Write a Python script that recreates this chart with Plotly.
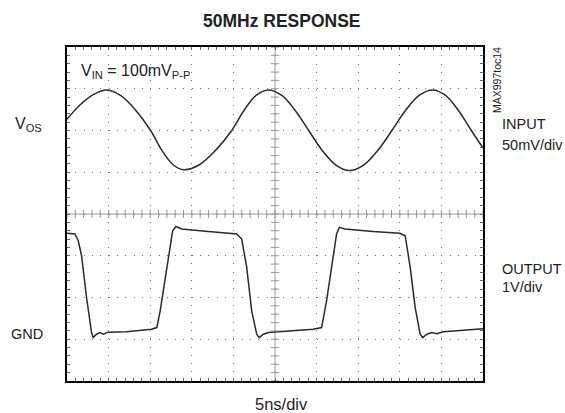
import numpy as np
import plotly.graph_objects as go

# ---- data ----
# input: time (ns), voltage relative to V_OS (mV); 50 mV/div, V_OS at 6 div
in_t_ns = [0, 1.55, 3.15, 4.75, 6.52, 8.28, 10.05, 11.38, 12.72, 14.05,
           15.97, 17.88, 19.8, 21.27, 22.73, 24.2, 25.82, 27.43, 29.05,
           30.68, 32.32, 33.95, 35.65, 37.35, 39.05, 40.68, 42.32, 43.95,
           45.5, 47.05, 48.6, 50.0]
in_mv = [13.5, 30.5, 43, 48.5, 41.5, 24, 0, -23.5, -40.7, -47,
         -40.7, -23.5, 0, 24, 42, 48.5, 42, 24, 0,
         -24, -41.5, -48, -41.5, -24, 0, 24, 42, 48.5,
         42, 24, 0, -21]

# output: time (ns), voltage above GND (V); 1 V/div, GND at 1 div
out_t_ns = [0, 0.95, 1.35, 1.75, 2.35, 2.95, 3.15, 3.55, 3.95, 4.35, 4.95, 7.15,
            10.15, 10.8, 11.2, 12.0, 12.7, 13.1, 13.8, 16.0, 19.2, 20.4, 21.0,
            21.6, 22.2, 22.8, 23.1, 23.6, 24.2, 25.6, 28.0, 29.6, 30.6, 31.2,
            31.8, 32.4, 32.75, 33.4, 36.8, 40.0, 40.65, 41.25, 41.85, 42.45,
            42.75, 43.25, 43.85, 44.45, 45.25, 50.0]
out_v = [2.54, 2.52, 2.36, 2.00, 1.00, 0.16, 0.04, 0.12, 0.16, 0.12, 0.17, 0.18,
         0.24, 0.28, 0.68, 1.72, 2.60, 2.70, 2.64, 2.60, 2.54, 2.52, 2.40,
         1.72, 0.68, 0.12, 0.04, 0.12, 0.16, 0.18, 0.21, 0.24, 0.28, 0.92,
         1.72, 2.52, 2.68, 2.64, 2.58, 2.54, 2.48, 1.72, 0.76, 0.12,
         0.04, 0.12, 0.16, 0.13, 0.18, 0.25]

IN_MV_PER_DIV = 50.0
IN_OFFSET_DIV = 6.0
OUT_V_PER_DIV = 1.0
OUT_OFFSET_DIV = 1.0

in_y = IN_OFFSET_DIV + np.array(in_mv) / IN_MV_PER_DIV
out_y = OUT_OFFSET_DIV + np.array(out_v) / OUT_V_PER_DIV

FONT = "Liberation Sans, Arial, Helvetica, sans-serif"
TRACE = "#2b2b2b"
GRID = "#7a7a7a"
CROSS = "#9a9a9a"

W, H = 565, 413
L, R, T, B = 67, 483, 47, 381

fig = go.Figure()
fig.add_trace(go.Scatter(x=in_t_ns, y=in_y, mode="lines",
                         line=dict(color=TRACE, width=1.5, shape="spline", smoothing=1.0),
                         hoverinfo="skip", showlegend=False))
fig.add_trace(go.Scatter(x=out_t_ns, y=out_y, mode="lines", line=dict(color=TRACE, width=1.5),
                         hoverinfo="skip", showlegend=False))

# centre cross lines with ticks
fig.add_shape(type="line", x0=0, x1=50, y0=4, y1=4, line=dict(color=CROSS, width=1), layer="below")
fig.add_shape(type="line", x0=25, x1=25, y0=0, y1=8, line=dict(color=CROSS, width=1), layer="below")
ht = np.arange(0, 50.001, 1.0)
vt = np.arange(0, 8.001, 0.2)
fig.add_trace(go.Scatter(x=ht, y=np.full(ht.shape, 4.0), mode="markers",
                         marker=dict(symbol="line-ns-open", size=6, color=CROSS,
                                     line=dict(color=CROSS, width=1)),
                         hoverinfo="skip", showlegend=False))
fig.add_trace(go.Scatter(x=np.full(vt.shape, 25.0), y=vt, mode="markers",
                         marker=dict(symbol="line-ew-open", size=6, color=CROSS,
                                     line=dict(color=CROSS, width=1)),
                         hoverinfo="skip", showlegend=False))

axis_common = dict(showline=True, linecolor="black", linewidth=2, mirror="ticks",
                   ticks="inside", ticklen=3, tickcolor="#666", showticklabels=False,
                   showgrid=True, gridcolor=GRID, gridwidth=1, griddash="1px,7.32px",
                   zeroline=False, fixedrange=True)
fig.update_xaxes(range=[0, 50], dtick=5, tick0=0,
                 minor=dict(dtick=1, ticks="inside", ticklen=3, tickcolor="#666", showgrid=False),
                 **axis_common)
fig.update_yaxes(range=[0, 8], dtick=1, tick0=0,
                 minor=dict(dtick=0.2, ticks="inside", ticklen=3, tickcolor="#666", showgrid=False),
                 **axis_common)


def px(xp):
    return (xp - L) / (R - L)


def py(yp):
    return (B - yp) / (B - T)


def ann(text, x, y, size=15, xanchor="left", bold=False, angle=0):
    fig.add_annotation(text=f"<b>{text}</b>" if bold else text, x=px(x), y=py(y),
                       xref="paper", yref="paper", xanchor=xanchor, yanchor="middle",
                       showarrow=False, textangle=angle,
                       font=dict(family=FONT, size=size, color="#222"))


ann("50MHz RESPONSE", 282, 21, size=17.5, xanchor="center", bold=True)
ann("V<sub>IN</sub> = 100mV<sub>P-P</sub>", 79, 71, size=16)
ann("V<sub>OS</sub>", 13, 125, size=16)
ann("GND", 9, 334, size=14.5)
ann("INPUT", 500, 124.5, size=14.5)
ann("50mV/div", 500, 145, size=14.5)
ann("OUTPUT", 500, 269, size=14.5)
ann("1V/div", 500, 287, size=14.5)
ann("5ns/div", 281, 404, size=16.5, xanchor="center")
ann("MAX997toc14", 497, 80, size=10.5, xanchor="center", angle=-90)

fig.update_layout(width=W, height=H, margin=dict(l=L, r=W - R, t=T, b=H - B),
                  paper_bgcolor="white", plot_bgcolor="white", showlegend=False)

fig.write_html("out.html", config={"displayModeBar": False},
               post_script="document.body.style.margin='0px';document.body.style.overflow='hidden';")
